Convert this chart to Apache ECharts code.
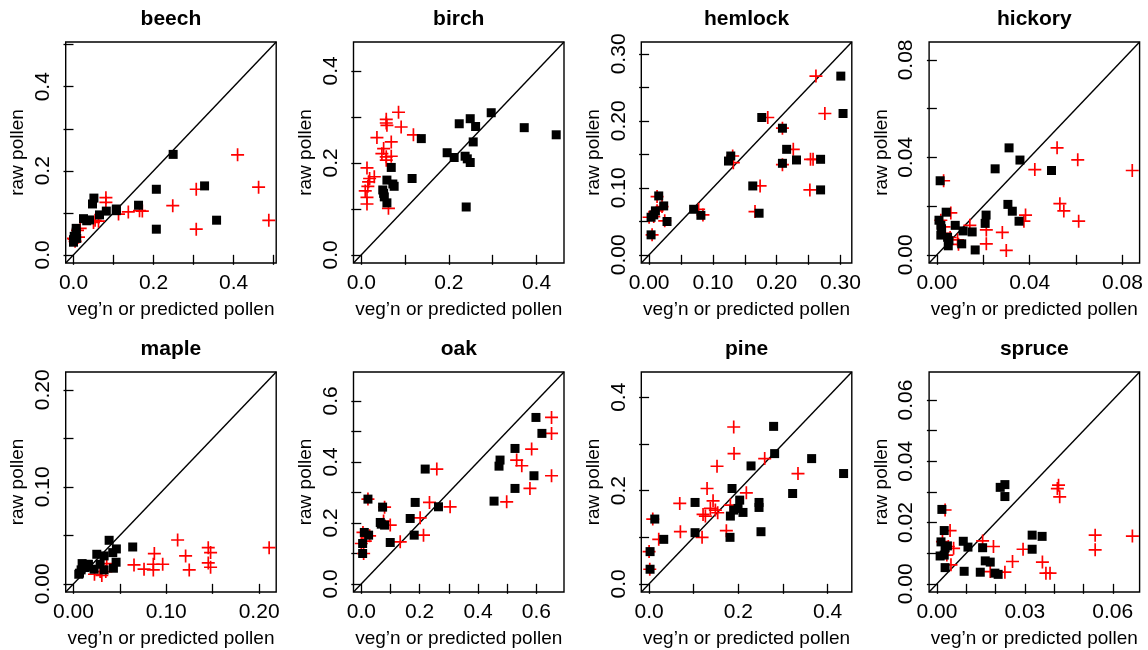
<!DOCTYPE html>
<html>
<head>
<meta charset="utf-8">
<script src="https://cdn.jsdelivr.net/npm/echarts@6/dist/echarts.min.js"></script>
<style>html,body{margin:0;padding:0;background:#fff;}#c{width:1148px;height:650px;}</style>
</head>
<body>
<div id="c"></div>
<script>
// ---- data: [x, y] pairs; "veg" = black squares, "pred" = red crosses ----
const beechVeg = [[0.249,0.239],[0.207,0.156],[0.3275,0.164],[0.3575,0.0824],[0.207,0.061],[0.1625,0.118],[0.107,0.109],[0.107,0.105],[0.082,0.104],[0.065,0.095],[0.051,0.135],[0.0475,0.121],[0.025,0.086],[0.033,0.081],[0.04,0.083],[0.0067,0.063],[0.0067,0.054],[0.0017,0.044],[0.0,0.036],[0.008,0.039],[0.0,0.030]];
const beechPred = [[0.41,0.238],[0.4625,0.161],[0.488,0.082],[0.3067,0.156],[0.3067,0.061],[0.248,0.117],[0.172,0.104],[0.165,0.105],[0.137,0.102],[0.1125,0.097],[0.081,0.136],[0.081,0.125],[0.0625,0.08],[0.054,0.082],[0.05,0.077],[0.0167,0.063],[0.01,0.058],[0.0017,0.037],[0.0,0.039],[0.004,0.032],[0.0125,0.042]];

const birchVeg = [[0.2966,0.309],[0.372,0.2765],[0.445,0.261],[0.2487,0.296],[0.2236,0.285],[0.261,0.279],[0.2555,0.2455],[0.137,0.2527],[0.196,0.222],[0.212,0.2116],[0.237,0.2144],[0.242,0.2087],[0.2487,0.2007],[0.2395,0.104],[0.116,0.166],[0.0684,0.19],[0.0585,0.1625],[0.072,0.154],[0.075,0.149],[0.049,0.141],[0.051,0.1336],[0.0525,0.126],[0.0585,0.113]];
const birchPred = [[0.085,0.310],[0.057,0.2946],[0.057,0.2866],[0.0585,0.2816],[0.091,0.278],[0.119,0.261],[0.0357,0.255],[0.0684,0.2455],[0.051,0.231],[0.047,0.220],[0.057,0.213],[0.0684,0.2144],[0.057,0.2058],[0.013,0.189],[0.019,0.166],[0.0297,0.1697],[0.0167,0.1588],[0.015,0.149],[0.009,0.139],[0.013,0.125],[0.013,0.1105],[0.062,0.101]];

const hemlockVeg = [[0.3005,0.2668],[0.304,0.211],[0.1766,0.205],[0.209,0.189],[0.2156,0.1575],[0.231,0.1416],[0.2688,0.1426],[0.209,0.1366],[0.128,0.1475],[0.1245,0.140],[0.1625,0.1028],[0.1724,0.0621],[0.2688,0.0969],[0.0698,0.068],[0.0812,0.059],[0.0151,0.0879],[0.0229,0.073],[0.0099,0.0656],[0.0073,0.0596],[0.0031,0.0561],[0.0281,0.0497],[0.0031,0.0298]];
const hemlockPred = [[0.2615,0.2668],[0.2755,0.211],[0.186,0.205],[0.209,0.189],[0.226,0.1575],[0.253,0.1426],[0.257,0.1426],[0.209,0.1346],[0.131,0.1475],[0.132,0.1376],[0.174,0.1028],[0.166,0.0646],[0.252,0.0969],[0.0776,0.068],[0.0844,0.0596],[0.0125,0.087],[0.0203,0.072],[0.0125,0.0656],[0.0073,0.0571],[0.0,0.0561],[0.0245,0.0507],[0.0047,0.0298]];

const hickoryVeg = [[0.0311,0.0439],[0.0358,0.0389],[0.0251,0.0353],[0.0494,0.0346],[0.0014,0.0304],[0.0306,0.0207],[0.0325,0.0179],[0.0354,0.0138],[0.0212,0.0163],[0.0208,0.0129],[0.004,0.0175],[0.0009,0.0142],[0.0017,0.0121],[0.002,0.0107],[0.0017,0.0081],[0.0046,0.0072],[0.0052,0.0058],[0.0049,0.0037],[0.0079,0.0121],[0.0113,0.0098],[0.0152,0.0094],[0.0107,0.0045],[0.0165,0.002]];
const hickoryPred = [[0.0518,0.0439],[0.0607,0.039],[0.0422,0.035],[0.0842,0.0346],[0.0029,0.0304],[0.053,0.021],[0.0547,0.018],[0.0611,0.0138],[0.0382,0.0163],[0.0375,0.0138],[0.006,0.0172],[0.0017,0.0142],[0.0031,0.0115],[0.0142,0.0121],[0.0213,0.0102],[0.0282,0.0092],[0.0213,0.0045],[0.0299,0.0018],[0.0089,0.0061],[0.0093,0.0043],[0.0057,0.0071],[0.0036,0.0088]];

const mapleVeg = [[0.0384,0.0449],[0.0638,0.038],[0.0462,0.036],[0.0423,0.0322],[0.0251,0.0305],[0.033,0.0288],[0.0459,0.0223],[0.043,0.0161],[0.0093,0.0209],[0.0161,0.0202],[0.0287,0.0202],[0.0222,0.0151],[0.033,0.0144],[0.0082,0.0144],[0.0065,0.011],[0.0057,0.0099],[0.0125,0.0168],[0.0161,0.0178]];
const maplePred = [[0.1122,0.0452],[0.2108,0.0373],[0.1452,0.0373],[0.1477,0.0322],[0.0871,0.0312],[0.1208,0.0288],[0.1452,0.0216],[0.1477,0.0171],[0.0961,0.0202],[0.086,0.0202],[0.0652,0.0195],[0.076,0.0151],[0.086,0.0144],[0.1247,0.0144],[0.0358,0.0209],[0.0226,0.0099],[0.0305,0.0086],[0.0348,0.0127],[0.0287,0.0127]];

const oakVeg = [[0.5986,0.5457],[0.619,0.4934],[0.5268,0.444],[0.4755,0.4059],[0.472,0.386],[0.5918,0.3545],[0.5268,0.3129],[0.455,0.2713],[0.219,0.3764],[0.1847,0.267],[0.2645,0.2527],[0.1676,0.2144],[0.1813,0.1597],[0.0228,0.2779],[0.073,0.2516],[0.065,0.2013],[0.0684,0.1958],[0.0798,0.1926],[0.0992,0.1357],[0.0103,0.1685],[0.0251,0.1597],[0.0046,0.1324],[0.0046,0.0996]];
const oakPred = [[0.652,0.5457],[0.652,0.4934],[0.5838,0.442],[0.5325,0.4059],[0.55,0.3873],[0.652,0.3545],[0.578,0.3129],[0.4983,0.269],[0.2588,0.3764],[0.2337,0.267],[0.3044,0.2527],[0.2018,0.2166],[0.2132,0.1597],[0.0228,0.2779],[0.0798,0.2516],[0.0764,0.2057],[0.0992,0.1926],[0.1334,0.1379],[0.0057,0.1685],[0.0285,0.1576],[0.0137,0.14],[0.0,0.1324],[0.008,0.0996]];

const pineVeg = [[0.279,0.3376],[0.2813,0.2792],[0.3642,0.2685],[0.4358,0.2365],[0.2284,0.2528],[0.3216,0.1937],[0.1858,0.2044],[0.203,0.1795],[0.2463,0.1745],[0.2463,0.1638],[0.1993,0.1617],[0.1896,0.1581],[0.2104,0.1531],[0.1821,0.1453],[0.103,0.1745],[0.2507,0.1118],[0.1813,0.0997],[0.103,0.1097],[0.0127,0.1389],[0.0328,0.0954],[0.0022,0.0691],[0.0022,0.0313]];
const pinePred = [[0.1896,0.3362],[0.1903,0.2792],[0.259,0.2685],[0.1522,0.2521],[0.3336,0.2365],[0.1299,0.2044],[0.2179,0.1952],[0.0687,0.1724],[0.1433,0.178],[0.1373,0.1617],[0.1485,0.1581],[0.1537,0.1524],[0.1821,0.1688],[0.1261,0.1453],[0.1209,0.1489],[0.1187,0.0997],[0.1731,0.114],[0.0701,0.1118],[0.0082,0.1389],[0.0216,0.0954],[0.0,0.0691],[0.0015,0.0313]];

const spruceVeg = [[0.0232,0.0324],[0.0216,0.0315],[0.0232,0.0285],[0.0017,0.0243],[0.0025,0.0174],[0.0014,0.0137],[0.0028,0.0118],[0.0036,0.0124],[0.0011,0.0091],[0.0025,0.0094],[0.0028,0.0053],[0.009,0.0139],[0.0106,0.012],[0.0093,0.0041],[0.0156,0.0118],[0.0165,0.0075],[0.0182,0.0071],[0.0148,0.0038],[0.0198,0.0035],[0.0209,0.0031],[0.0325,0.0159],[0.0359,0.0155],[0.0325,0.0113]];
const sprucePred = [[0.0415,0.0322],[0.0411,0.0311],[0.0419,0.0284],[0.0028,0.0241],[0.0045,0.0174],[0.0019,0.0138],[0.0057,0.0116],[0.0039,0.0122],[0.0034,0.0094],[0.0048,0.0062],[0.0156,0.014],[0.0193,0.0122],[0.0294,0.0113],[0.0258,0.0073],[0.0232,0.0038],[0.0182,0.004],[0.036,0.0071],[0.0372,0.0035],[0.0386,0.0035],[0.054,0.0159],[0.054,0.0111],[0.0667,0.0156]];

// ---- axes: data extent (same on x and y), ticks and tick labels ----
const speciesNames = ['beech','birch','hemlock','hickory','maple','oak','pine','spruce'];
const dataMax = [0.487, 0.445, 0.3055, 0.084, 0.21, 0.668, 0.4367, 0.0665];
const tickDecimals = [1, 1, 2, 2, 2, 1, 1, 2];
const beechTicks = [0,0.1,0.2,0.3,0.4,0.5];       const beechLabels = [0,0.2,0.4];
const birchTicks = [0,0.1,0.2,0.3,0.4];           const birchLabels = [0,0.2,0.4];
const hemlockTicks = [0,0.05,0.1,0.15,0.2,0.25,0.3]; const hemlockLabels = [0,0.1,0.2,0.3];
const hickoryTicks = [0,0.02,0.04,0.06,0.08];     const hickoryLabels = [0,0.04,0.08];
const mapleTicks = [0,0.05,0.1,0.15,0.2];         const mapleLabels = [0,0.1,0.2];
const oakTicks = [0,0.1,0.2,0.3,0.4,0.5,0.6];     const oakLabels = [0,0.2,0.4,0.6];
const pineTicks = [0,0.1,0.2,0.3,0.4];            const pineLabels = [0,0.2,0.4];
const spruceTicks = [0,0.01,0.02,0.03,0.04,0.05,0.06];
const spruceXLabels = [0,0.03,0.06];              const spruceYLabels = [0,0.02,0.04,0.06];

const xAxisTitle = "veg\u2019n or predicted pollen";
const yAxisTitle = "raw pollen";

const vegData = [beechVeg, birchVeg, hemlockVeg, hickoryVeg, mapleVeg, oakVeg, pineVeg, spruceVeg];
const predData = [beechPred, birchPred, hemlockPred, hickoryPred, maplePred, oakPred, pinePred, sprucePred];
const ticksAll = [beechTicks, birchTicks, hemlockTicks, hickoryTicks, mapleTicks, oakTicks, pineTicks, spruceTicks];
const xLabAll = [beechLabels, birchLabels, hemlockLabels, hickoryLabels, mapleLabels, oakLabels, pineLabels, spruceXLabels];
const yLabAll = [beechLabels, birchLabels, hemlockLabels, hickoryLabels, mapleLabels, oakLabels, pineLabels, spruceYLabels];

// ---- layout ----
const FONT = 'Liberation Sans, Arial, Helvetica, sans-serif';
const colStep = 287.8, left0 = 65.7, boxW = 210.5;
const rowTop = [42, 372], boxH = [221, 220];
const plusPath = 'path://M-0.65,-5 H0.65 V-0.65 H5 V0.65 H0.65 V5 H-0.65 V0.65 H-5 V-0.65 H-0.65 Z';

const grids = [], xAxes = [], yAxes = [], series = [], graphics = [];
speciesNames.forEach((name, i) => {
  const col = i % 4, row = Math.floor(i / 4);
  const gl = left0 + col * colStep, gt = rowTop[row];
  const M = dataMax[i], lo = -0.04 * M, hi = 1.04 * M, dec = tickDecimals[i];
  grids.push({left: gl, top: gt, width: boxW, height: boxH[row], show: true,
    borderColor: '#000', borderWidth: 1.4, backgroundColor: 'transparent', containLabel: false});
  const common = {
    type: 'value', gridIndex: i, min: lo, max: hi, scale: true,
    axisLine: {show: false}, splitLine: {show: false},
    axisTick: {show: true, inside: false, length: 10, lineStyle: {color: '#000', width: 1.3}, customValues: ticksAll[i]},
    nameLocation: 'middle',
    nameTextStyle: {fontFamily: FONT, fontSize: 19, color: '#000'}
  };
  xAxes.push(Object.assign({}, common, {
    position: 'bottom', name: xAxisTitle, nameGap: 37,
    axisLabel: {show: true, customValues: xLabAll[i], margin: 10, fontFamily: FONT, fontSize: 21, color: '#000',
      formatter: v => Number(v).toFixed(dec)}
  }));
  yAxes.push(Object.assign({}, common, {
    position: 'left', name: yAxisTitle, nameGap: 38,
    axisLabel: {show: true, customValues: yLabAll[i], margin: 12, rotate: 90, fontFamily: FONT, fontSize: 21, color: '#000',
      formatter: v => Number(v).toFixed(dec)}
  }));
  series.push({type: 'line', xAxisIndex: i, yAxisIndex: i, data: [[lo, lo], [hi, hi]], symbol: 'none',
    lineStyle: {color: '#000', width: 1.4}, silent: true, z: 1, animation: false});
  series.push({type: 'scatter', xAxisIndex: i, yAxisIndex: i, data: predData[i], symbol: plusPath, symbolSize: 13,
    itemStyle: {color: '#ff0000', opacity: 1}, silent: true, z: 2, animation: false});
  series.push({type: 'scatter', xAxisIndex: i, yAxisIndex: i, data: vegData[i], symbol: 'rect', symbolSize: 9,
    itemStyle: {color: '#000', opacity: 1}, silent: true, z: 3, animation: false});
  graphics.push({type: 'text', x: gl + boxW / 2, y: gt - 23,
    style: {text: name, align: 'center', verticalAlign: 'middle', fontFamily: FONT, fontSize: 21, fontWeight: 'bold', fill: '#000'}});
});

const chart = echarts.init(document.getElementById('c'), null, {renderer: 'canvas'});
chart.setOption({
  backgroundColor: '#fff',
  animation: false,
  grid: grids, xAxis: xAxes, yAxis: yAxes, series: series,
  graphic: graphics
});
</script>
</body>
</html>
